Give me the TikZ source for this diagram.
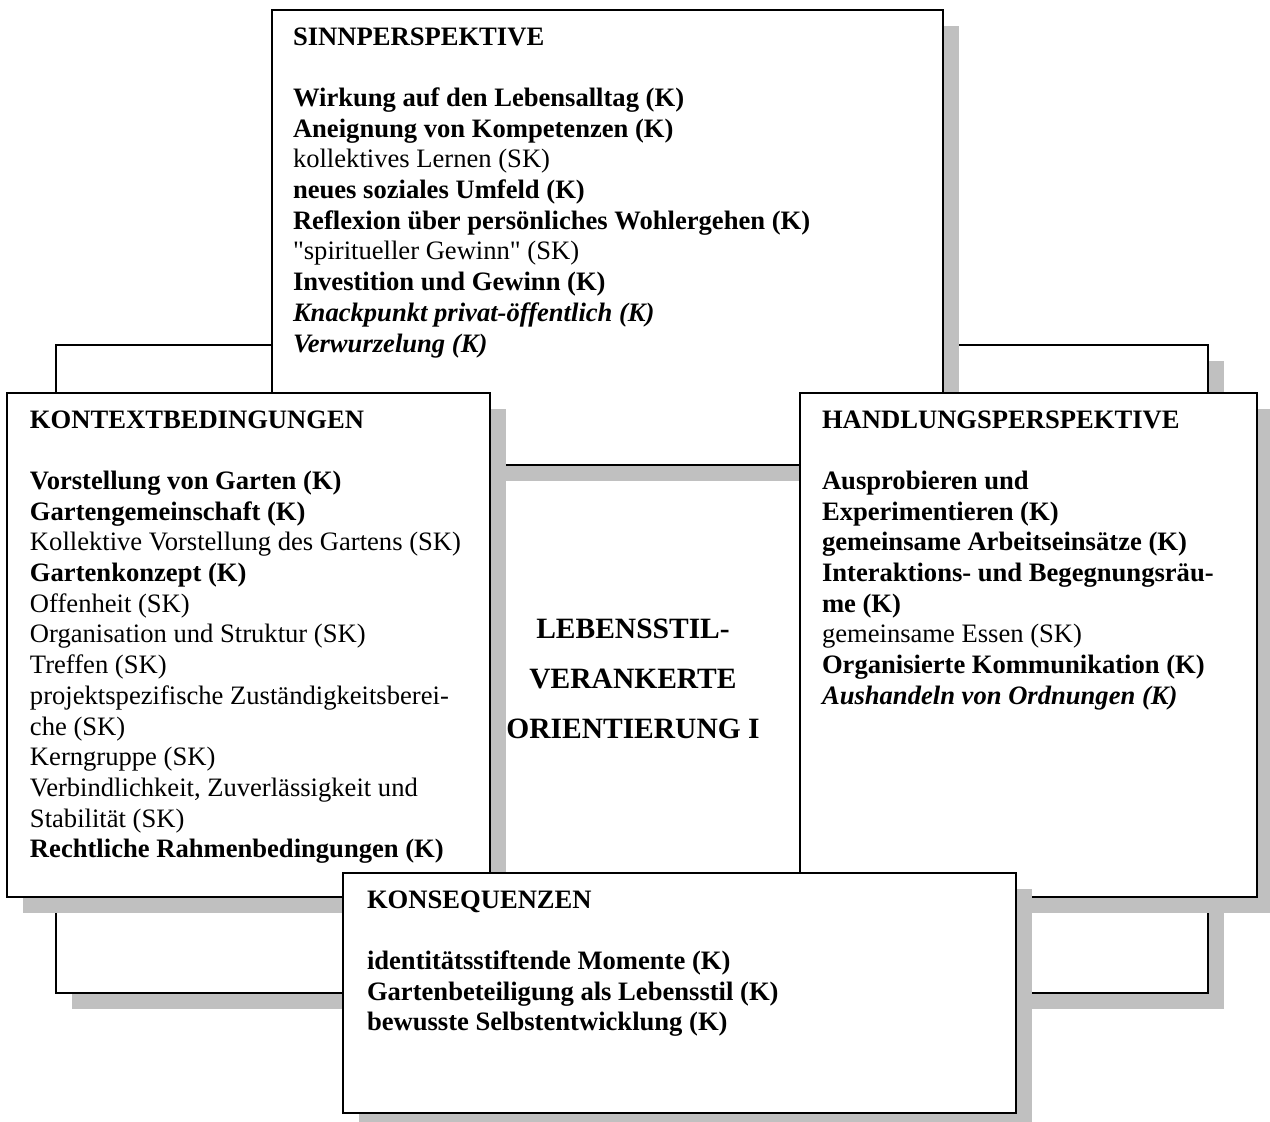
\documentclass[tikz,border=0pt]{standalone}
\usepackage{fontspec}
\setmainfont{Liberation Serif}[Ligatures=TeXOff]
\usetikzlibrary{shadows}
\definecolor{shgray}{RGB}{192,192,192}
\newcommand{\firststrut}{\rule{0pt}{12pt}}
\begin{document}
\begin{tikzpicture}[x=0.5pt,y=-0.5pt,
  panel/.style={draw=black, line width=1pt, fill=white, rectangle,
    anchor=north west, inner sep=0pt, outer sep=0pt,
    drop shadow={shadow xshift=8pt, shadow yshift=-8pt, fill=shgray, opacity=1}},
  txt/.style={anchor=north west, inner sep=0pt, outer sep=0pt, align=left,
    font=\fontsize{13.3}{15.35}\selectfont},
  centertxt/.style={anchor=north, inner sep=0pt, outer sep=0pt, align=center,
    font=\fontsize{14.75}{25}\selectfont\bfseries}]
\useasboundingbox (0,0) rectangle (1270,1121);
% panels (drawn in stacking order)
\node[panel, minimum width=576pt, minimum height=324pt] (bg) at (56,345) {};
\node[panel, minimum width=335.5pt, minimum height=227.5pt] (sinn) at (272,10) {};
\node[panel, minimum width=241.5pt, minimum height=252pt] (kontext) at (7,393) {};
\node[panel, minimum width=228.5pt, minimum height=252pt] (handlung) at (800,393) {};
\node[panel, minimum width=336.5pt, minimum height=120pt] (konseq) at (343,873) {};
% texts
\node[txt] (sinntxt) at (293,21) {\firststrut\textbf{SINNPERSPEKTIVE}\\[15.35pt]
\textbf{Wirkung auf den Lebensalltag (K)}\\
\textbf{Aneignung von Kompetenzen (K)}\\
kollektives Lernen (SK)\\
\textbf{neues soziales Umfeld (K)}\\
\textbf{Reflexion über persönliches Wohlergehen (K)}\\
"spiritueller Gewinn" (SK)\\
\textbf{Investition und Gewinn (K)}\\
\textbf{\textit{Knackpunkt privat-öffentlich (K)}}\\
\textbf{\textit{Verwurzelung (K)}}};
\node[txt] (kontexttxt) at (30,404) {\firststrut\textbf{KONTEXTBEDINGUNGEN}\\[15.35pt]
\textbf{Vorstellung von Garten (K)}\\
\textbf{Gartengemeinschaft (K)}\\
Kollektive Vorstellung des Gartens (SK)\\
\textbf{Gartenkonzept (K)}\\
Offenheit (SK)\\
Organisation und Struktur (SK)\\
Treffen (SK)\\
projektspezifische Zuständigkeitsberei-\\
che (SK)\\
Kerngruppe (SK)\\
Verbindlichkeit, Zuverlässigkeit und\\
Stabilität (SK)\\
\textbf{Rechtliche Rahmenbedingungen (K)}};
\node[txt] (handlungtxt) at (822,404) {\firststrut\textbf{HANDLUNGSPERSPEKTIVE}\\[15.35pt]
\textbf{Ausprobieren und}\\
\textbf{Experimentieren (K)}\\
\textbf{gemeinsame Arbeitseinsätze (K)}\\
\textbf{Interaktions- und Begegnungsräu-}\\
\textbf{me (K)}\\
gemeinsame Essen (SK)\\
\textbf{Organisierte Kommunikation (K)}\\
\textbf{\textit{Aushandeln von Ordnungen (K)}}};
\node[txt] (konseqtxt) at (367,884) {\firststrut\textbf{KONSEQUENZEN}\\[15.35pt]
\textbf{identitätsstiftende Momente (K)}\\
\textbf{Gartenbeteiligung als Lebensstil (K)}\\
\textbf{bewusste Selbstentwicklung (K)}};
\node[centertxt] (center) at (633,610) {\rule{0pt}{14pt}LEBENSSTIL-\\VERANKERTE\\ORIENTIERUNG I};
\end{tikzpicture}
\end{document}
